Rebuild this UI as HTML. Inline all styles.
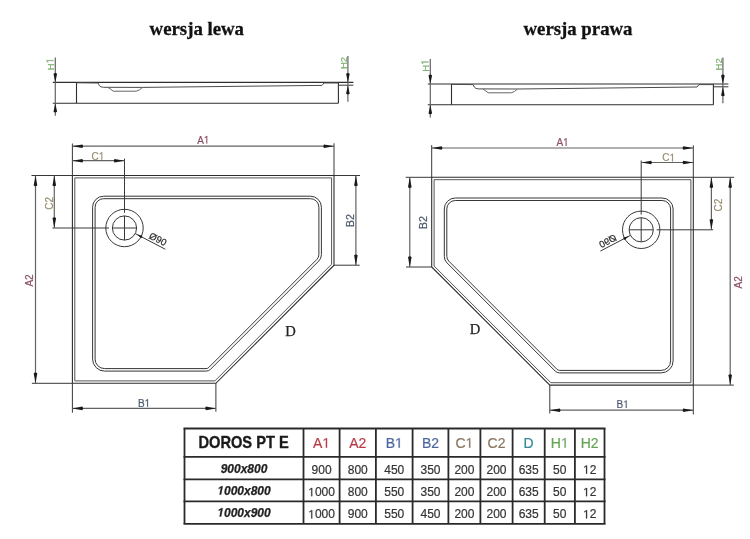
<!DOCTYPE html>
<html><head><meta charset="utf-8"><style>
*{margin:0;padding:0}
html,body{width:750px;height:539px;background:#fff;overflow:hidden}
svg{position:absolute;left:0;top:0;will-change:transform}
.tr{fill:none;stroke:#2e2e2e;stroke-width:1.1}
.tr2{fill:none;stroke:#555;stroke-width:1}
.bs{fill:none;stroke:#363636;stroke-width:1}
.pf{fill:none;stroke:#4a4a4a;stroke-width:1}
.pf2{fill:none;stroke:#666;stroke-width:1}
.el{stroke:#383838;stroke-width:1}
.dl{stroke:#626262;stroke-width:1.2}
.ah{fill:#1a1a1a}
.o1{fill-opacity:0;stroke-opacity:0}
.tb2{stroke:#2a2a2a;stroke-width:1.8}
text{font-family:"Liberation Sans",sans-serif}
.ta{font-size:10px;fill:#8a5062;stroke:#8a5062;stroke-width:0.2}
.tb{font-size:10px;fill:#4c5a6e;stroke:#4c5a6e;stroke-width:0.2}
.tb2x{font-size:10.8px}
.tc{font-size:10px;fill:#968c6e;stroke:#968c6e;stroke-width:0.2}
.th{font-size:9.5px;fill:#7aae6e;stroke:#7aae6e;stroke-width:0.2}
.td{font-family:"Liberation Serif",serif;font-size:14.6px;fill:#222;stroke:#222;stroke-width:0.25}
.tdm{font-size:9.6px;fill:#2a2a2a;stroke:#2a2a2a;stroke-width:0.2}
.ti{font-family:"Liberation Serif",serif;font-weight:bold;font-size:18.8px;fill:#111;stroke:#111;stroke-width:0.3}
.hd{font-weight:bold;font-size:15.6px;fill:#1a1a1a;stroke:#1a1a1a;stroke-width:0.35}
.hA{font-size:14px;fill:#b83c46;stroke:#b83c46;stroke-width:0.2}
.hB{font-size:14px;fill:#4d66a0;stroke:#4d66a0;stroke-width:0.2}
.hC{font-size:14px;fill:#8a7562;stroke:#8a7562;stroke-width:0.2}
.hD{font-size:14px;fill:#338796;stroke:#338796;stroke-width:0.2}
.hH{font-size:14px;fill:#66a354;stroke:#66a354;stroke-width:0.2}
.rn{font-weight:bold;font-style:italic;font-size:12px;fill:#222;stroke:#222;stroke-width:0.25}
.dv{font-size:12px;fill:#333;stroke:#333;stroke-width:0.2}
</style></head>
<body>
<svg width="750" height="539" viewBox="0 0 750 539">
<text x="196.8" y="35.3" class="ti" text-anchor="middle">wersja lewa</text>
<text x="578.0" y="35.1" class="ti" text-anchor="middle">wersja prawa</text>
<g id="L">
<line x1="52.80" y1="82.40" x2="353.40" y2="82.40" class="tr"/>
<line x1="52.80" y1="103.20" x2="338.40" y2="103.20" class="tr"/>
<line x1="76.50" y1="82.40" x2="76.50" y2="103.20" class="tr"/>
<line x1="338.40" y1="82.40" x2="338.40" y2="103.20" class="tr"/>
<line x1="338.40" y1="85.20" x2="353.40" y2="85.20" class="el"/>
<path d="M76.5,82.8 L98,83 L99.4,85.6 Q100.6,87.3 103.6,87.3 L142.4,87.4 L322,85.4 L324,83.0 L338.4,83.0" class="pf"/>
<path d="M107.8,87.3 Q110,88.6 113.2,91.2 L136.2,91.2 Q139.6,90.6 142.4,87.4" class="pf2"/>
<line x1="55.30" y1="57.40" x2="55.30" y2="115.80" class="dl"/>
<path d="M55.30,82.40 L53.50,73.80 Q55.30,72.20 57.10,73.80 Z" class="ah"/>
<path d="M55.30,103.20 L57.10,111.80 Q55.30,113.40 53.50,111.80 Z" class="ah"/>
<line x1="347.90" y1="56.00" x2="347.90" y2="101.70" class="dl"/>
<path d="M347.90,82.40 L346.10,73.80 Q347.90,72.20 349.70,73.80 Z" class="ah"/>
<path d="M347.90,85.20 L349.70,93.80 Q347.90,95.40 346.10,93.80 Z" class="ah"/>
<path d="M72.40,175.50 L334.00,175.50 L334.00,265.20 L215.90,383.30 L72.40,383.30 Z" class="tr"/>
<path d="M74.80,177.90 L331.60,177.90 L331.60,264.21 L214.91,380.90 L74.80,380.90 Z" class="tr2"/>
<path d="M92.60,207.20 A11.00,11.00 0 0 1 103.60,196.20 L310.40,196.20 A11.00,11.00 0 0 1 321.40,207.20 L321.40,254.67 A9.00,9.00 0 0 1 318.76,261.04 L210.46,369.34 A6.00,6.00 0 0 1 206.21,371.10 L104.60,371.10 A12.00,12.00 0 0 1 92.60,359.10 Z" class="bs"/>
<path d="M95.10,207.20 A8.50,8.50 0 0 1 103.60,198.70 L310.40,198.70 A8.50,8.50 0 0 1 318.90,207.20 L318.90,254.46 A7.00,7.00 0 0 1 316.85,259.41 L208.84,367.43 A4.00,4.00 0 0 1 206.01,368.60 L104.60,368.60 A9.50,9.50 0 0 1 95.10,359.10 Z" class="bs"/>
<circle cx="124.5" cy="228.0" r="18.7" class="bs"/>
<circle cx="124.5" cy="228.0" r="12.1" class="bs"/>
<line x1="124.50" y1="158.70" x2="124.50" y2="212.80" class="el"/>
<line x1="124.50" y1="215.90" x2="124.50" y2="240.10" class="el"/>
<line x1="52.50" y1="228.00" x2="109.00" y2="228.00" class="el"/>
<line x1="112.40" y1="228.00" x2="136.60" y2="228.00" class="el"/>
<line x1="135.23" y1="233.59" x2="165.30" y2="249.24" class="el"/>
<path d="M137.10,234.56 L142.40,235.63 Q142.24,237.23 141.02,238.29 Z" class="ah"/>
<line x1="72.40" y1="143.50" x2="72.40" y2="175.50" class="el"/>
<line x1="72.40" y1="383.30" x2="72.40" y2="412.70" class="el"/>
<line x1="334.00" y1="143.30" x2="334.00" y2="175.50" class="el"/>
<line x1="31.50" y1="175.50" x2="72.40" y2="175.50" class="el"/>
<line x1="31.90" y1="383.30" x2="72.40" y2="383.30" class="el"/>
<line x1="334.00" y1="175.50" x2="360.00" y2="175.50" class="el"/>
<line x1="334.00" y1="265.20" x2="359.70" y2="265.20" class="el"/>
<line x1="215.90" y1="383.30" x2="215.90" y2="411.70" class="el"/>
<line x1="72.40" y1="146.20" x2="334.00" y2="146.20" class="dl"/><path d="M72.40,146.20 L82.40,144.40 Q84.00,146.20 82.40,148.00 Z" class="ah"/><path d="M334.00,146.20 L324.00,148.00 Q322.40,146.20 324.00,144.40 Z" class="ah"/>
<line x1="72.40" y1="160.70" x2="124.50" y2="160.70" class="dl"/><path d="M72.40,160.70 L82.40,158.90 Q84.00,160.70 82.40,162.50 Z" class="ah"/><path d="M124.50,160.70 L114.50,162.50 Q112.90,160.70 114.50,158.90 Z" class="ah"/>
<line x1="54.30" y1="175.50" x2="54.30" y2="228.00" class="dl"/><path d="M54.30,175.50 L56.10,185.50 Q54.30,187.10 52.50,185.50 Z" class="ah"/><path d="M54.30,228.00 L52.50,218.00 Q54.30,216.40 56.10,218.00 Z" class="ah"/>
<line x1="35.50" y1="175.50" x2="35.50" y2="383.30" class="dl"/><path d="M35.50,175.50 L37.30,185.50 Q35.50,187.10 33.70,185.50 Z" class="ah"/><path d="M35.50,383.30 L33.70,373.30 Q35.50,371.70 37.30,373.30 Z" class="ah"/>
<line x1="72.40" y1="408.40" x2="215.90" y2="408.40" class="dl"/><path d="M72.40,408.40 L82.40,406.60 Q84.00,408.40 82.40,410.20 Z" class="ah"/><path d="M215.90,408.40 L205.90,410.20 Q204.30,408.40 205.90,406.60 Z" class="ah"/>
<line x1="355.90" y1="175.50" x2="355.90" y2="265.20" class="dl"/><path d="M355.90,175.50 L357.70,185.50 Q355.90,187.10 354.10,185.50 Z" class="ah"/><path d="M355.90,265.20 L354.10,255.20 Q355.90,253.60 357.70,255.20 Z" class="ah"/>
<text x="0" y="0" transform="translate(158.0,239.0) rotate(27.5)" class="tdm" text-anchor="middle" dominant-baseline="central">&#216;90</text>
</g>
<g transform="translate(375,1.6)">
<line x1="52.80" y1="82.40" x2="353.40" y2="82.40" class="tr"/>
<line x1="52.80" y1="103.20" x2="338.40" y2="103.20" class="tr"/>
<line x1="76.50" y1="82.40" x2="76.50" y2="103.20" class="tr"/>
<line x1="338.40" y1="82.40" x2="338.40" y2="103.20" class="tr"/>
<line x1="338.40" y1="85.20" x2="353.40" y2="85.20" class="el"/>
<path d="M76.5,82.8 L98,83 L99.4,85.6 Q100.6,87.3 103.6,87.3 L142.4,87.4 L322,85.4 L324,83.0 L338.4,83.0" class="pf"/>
<path d="M107.8,87.3 Q110,88.6 113.2,91.2 L136.2,91.2 Q139.6,90.6 142.4,87.4" class="pf2"/>
<line x1="55.30" y1="57.40" x2="55.30" y2="115.80" class="dl"/>
<path d="M55.30,82.40 L53.50,73.80 Q55.30,72.20 57.10,73.80 Z" class="ah"/>
<path d="M55.30,103.20 L57.10,111.80 Q55.30,113.40 53.50,111.80 Z" class="ah"/>
<line x1="347.90" y1="56.00" x2="347.90" y2="101.70" class="dl"/>
<path d="M347.90,82.40 L346.10,73.80 Q347.90,72.20 349.70,73.80 Z" class="ah"/>
<path d="M347.90,85.20 L349.70,93.80 Q347.90,95.40 346.10,93.80 Z" class="ah"/>
</g>
<g transform="translate(765.7,1.8) scale(-1,1)">
<path d="M72.40,175.50 L334.00,175.50 L334.00,265.20 L215.90,383.30 L72.40,383.30 Z" class="tr"/>
<path d="M74.80,177.90 L331.60,177.90 L331.60,264.21 L214.91,380.90 L74.80,380.90 Z" class="tr2"/>
<path d="M92.60,207.20 A11.00,11.00 0 0 1 103.60,196.20 L310.40,196.20 A11.00,11.00 0 0 1 321.40,207.20 L321.40,254.67 A9.00,9.00 0 0 1 318.76,261.04 L210.46,369.34 A6.00,6.00 0 0 1 206.21,371.10 L104.60,371.10 A12.00,12.00 0 0 1 92.60,359.10 Z" class="bs"/>
<path d="M95.10,207.20 A8.50,8.50 0 0 1 103.60,198.70 L310.40,198.70 A8.50,8.50 0 0 1 318.90,207.20 L318.90,254.46 A7.00,7.00 0 0 1 316.85,259.41 L208.84,367.43 A4.00,4.00 0 0 1 206.01,368.60 L104.60,368.60 A9.50,9.50 0 0 1 95.10,359.10 Z" class="bs"/>
<circle cx="124.5" cy="228.0" r="18.7" class="bs"/>
<circle cx="124.5" cy="228.0" r="12.1" class="bs"/>
<line x1="124.50" y1="158.70" x2="124.50" y2="212.80" class="el"/>
<line x1="124.50" y1="215.90" x2="124.50" y2="240.10" class="el"/>
<line x1="52.50" y1="228.00" x2="109.00" y2="228.00" class="el"/>
<line x1="112.40" y1="228.00" x2="136.60" y2="228.00" class="el"/>
<line x1="135.23" y1="233.59" x2="165.30" y2="249.24" class="el"/>
<path d="M137.10,234.56 L142.40,235.63 Q142.24,237.23 141.02,238.29 Z" class="ah"/>
<line x1="72.40" y1="143.50" x2="72.40" y2="175.50" class="el"/>
<line x1="72.40" y1="383.30" x2="72.40" y2="412.70" class="el"/>
<line x1="334.00" y1="143.30" x2="334.00" y2="175.50" class="el"/>
<line x1="31.50" y1="175.50" x2="72.40" y2="175.50" class="el"/>
<line x1="31.90" y1="383.30" x2="72.40" y2="383.30" class="el"/>
<line x1="334.00" y1="175.50" x2="360.00" y2="175.50" class="el"/>
<line x1="334.00" y1="265.20" x2="359.70" y2="265.20" class="el"/>
<line x1="215.90" y1="383.30" x2="215.90" y2="411.70" class="el"/>
<line x1="72.40" y1="146.20" x2="334.00" y2="146.20" class="dl"/><path d="M72.40,146.20 L82.40,144.40 Q84.00,146.20 82.40,148.00 Z" class="ah"/><path d="M334.00,146.20 L324.00,148.00 Q322.40,146.20 324.00,144.40 Z" class="ah"/>
<line x1="72.40" y1="160.70" x2="124.50" y2="160.70" class="dl"/><path d="M72.40,160.70 L82.40,158.90 Q84.00,160.70 82.40,162.50 Z" class="ah"/><path d="M124.50,160.70 L114.50,162.50 Q112.90,160.70 114.50,158.90 Z" class="ah"/>
<line x1="54.30" y1="175.50" x2="54.30" y2="228.00" class="dl"/><path d="M54.30,175.50 L56.10,185.50 Q54.30,187.10 52.50,185.50 Z" class="ah"/><path d="M54.30,228.00 L52.50,218.00 Q54.30,216.40 56.10,218.00 Z" class="ah"/>
<line x1="35.50" y1="175.50" x2="35.50" y2="383.30" class="dl"/><path d="M35.50,175.50 L37.30,185.50 Q35.50,187.10 33.70,185.50 Z" class="ah"/><path d="M35.50,383.30 L33.70,373.30 Q35.50,371.70 37.30,373.30 Z" class="ah"/>
<line x1="72.40" y1="408.40" x2="215.90" y2="408.40" class="dl"/><path d="M72.40,408.40 L82.40,406.60 Q84.00,408.40 82.40,410.20 Z" class="ah"/><path d="M215.90,408.40 L205.90,410.20 Q204.30,408.40 205.90,406.60 Z" class="ah"/>
<line x1="355.90" y1="175.50" x2="355.90" y2="265.20" class="dl"/><path d="M355.90,175.50 L357.70,185.50 Q355.90,187.10 354.10,185.50 Z" class="ah"/><path d="M355.90,265.20 L354.10,255.20 Q355.90,253.60 357.70,255.20 Z" class="ah"/>
<text x="0" y="0" transform="translate(158.0,239.0) rotate(27.5)" class="tdm" text-anchor="middle" dominant-baseline="central">&#216;90</text>
</g>
<g><text id="t1" x="203.30" y="143.60" class="ta" text-anchor="middle">A<tspan class="o1">1</tspan></text><path d="M515,0 L515,1237 L197,1010 L197,1180 L530,1409 L696,1409 L696,0 Z" transform="translate(203.85,143.60) scale(0.00488,-0.00537)" fill="rgb(138, 80, 98)" stroke="rgb(138, 80, 98)" stroke-width="0.2px" vector-effect="non-scaling-stroke"/></g>
<g><text id="t2" x="98.00" y="159.80" class="tc" text-anchor="middle">C<tspan class="o1">1</tspan></text><path d="M515,0 L515,1237 L197,1010 L197,1180 L530,1409 L696,1409 L696,0 Z" transform="translate(98.84,159.80) scale(0.00488,-0.00537)" fill="rgb(150, 140, 110)" stroke="rgb(150, 140, 110)" stroke-width="0.2px" vector-effect="non-scaling-stroke"/></g>
<g><text id="t3" x="144.10" y="406.80" class="tb" text-anchor="middle">B<tspan class="o1">1</tspan></text><path d="M515,0 L515,1237 L197,1010 L197,1180 L530,1409 L696,1409 L696,0 Z" transform="translate(144.65,406.80) scale(0.00488,-0.00537)" fill="rgb(76, 90, 110)" stroke="rgb(76, 90, 110)" stroke-width="0.2px" vector-effect="non-scaling-stroke"/></g>
<g transform="translate(33.34,280.45) rotate(-90)"><text id="t4" x="0.00" y="0.00" class="ta" text-anchor="middle">A2</text></g>
<g transform="translate(53.39,203.25) rotate(-90)"><text id="t5" x="0.00" y="0.00" class="tc" text-anchor="middle">C2</text></g>
<g transform="translate(353.57,220.60) rotate(-90)"><text id="t6" x="0.00" y="0.00" class="tb tb2x" text-anchor="middle">B2</text></g>
<text x="290.4" y="335.6" class="td" text-anchor="middle">D</text>
<g transform="translate(53.57,64.25) rotate(-90)"><text id="t7" x="0.00" y="0.00" class="th" text-anchor="middle">H<tspan class="o1">1</tspan></text><path d="M515,0 L515,1237 L197,1010 L197,1180 L530,1409 L696,1409 L696,0 Z" transform="translate(0.79,0.00) scale(0.00464,-0.00510)" fill="rgb(122, 174, 110)" stroke="rgb(122, 174, 110)" stroke-width="0.2px" vector-effect="non-scaling-stroke"/></g>
<g transform="translate(346.77,63.00) rotate(-90)"><text id="t8" x="0.00" y="0.00" class="th" text-anchor="middle">H2</text></g>
<g><text id="t9" x="562.60" y="145.90" class="ta" text-anchor="middle">A<tspan class="o1">1</tspan></text><path d="M515,0 L515,1237 L197,1010 L197,1180 L530,1409 L696,1409 L696,0 Z" transform="translate(563.15,145.90) scale(0.00488,-0.00537)" fill="rgb(138, 80, 98)" stroke="rgb(138, 80, 98)" stroke-width="0.2px" vector-effect="non-scaling-stroke"/></g>
<g><text id="t10" x="668.70" y="161.40" class="tc" text-anchor="middle">C<tspan class="o1">1</tspan></text><path d="M515,0 L515,1237 L197,1010 L197,1180 L530,1409 L696,1409 L696,0 Z" transform="translate(669.54,161.40) scale(0.00488,-0.00537)" fill="rgb(150, 140, 110)" stroke="rgb(150, 140, 110)" stroke-width="0.2px" vector-effect="non-scaling-stroke"/></g>
<g><text id="t11" x="622.70" y="408.00" class="tb" text-anchor="middle">B<tspan class="o1">1</tspan></text><path d="M515,0 L515,1237 L197,1010 L197,1180 L530,1409 L696,1409 L696,0 Z" transform="translate(623.25,408.00) scale(0.00488,-0.00537)" fill="rgb(76, 90, 110)" stroke="rgb(76, 90, 110)" stroke-width="0.2px" vector-effect="non-scaling-stroke"/></g>
<g transform="translate(742.34,282.30) rotate(-90)"><text id="t12" x="0.00" y="0.00" class="ta" text-anchor="middle">A2</text></g>
<g transform="translate(721.94,205.00) rotate(-90)"><text id="t13" x="0.00" y="0.00" class="tc" text-anchor="middle">C2</text></g>
<g transform="translate(427.47,222.55) rotate(-90)"><text id="t14" x="0.00" y="0.00" class="tb tb2x" text-anchor="middle">B2</text></g>
<text x="474.95" y="333.7" class="td" text-anchor="middle">D</text>
<g transform="translate(428.57,65.60) rotate(-90)"><text id="t15" x="0.00" y="0.00" class="th" text-anchor="middle">H<tspan class="o1">1</tspan></text><path d="M515,0 L515,1237 L197,1010 L197,1180 L530,1409 L696,1409 L696,0 Z" transform="translate(0.79,0.00) scale(0.00464,-0.00510)" fill="rgb(122, 174, 110)" stroke="rgb(122, 174, 110)" stroke-width="0.2px" vector-effect="non-scaling-stroke"/></g>
<g transform="translate(721.77,64.30) rotate(-90)"><text id="t16" x="0.00" y="0.00" class="th" text-anchor="middle">H2</text></g>
<line x1="184.50" y1="428.50" x2="184.50" y2="523.90" class="tb2"/>
<line x1="303.50" y1="428.50" x2="303.50" y2="523.90" class="tb2"/>
<line x1="339.60" y1="428.50" x2="339.60" y2="523.90" class="tb2"/>
<line x1="375.90" y1="428.50" x2="375.90" y2="523.90" class="tb2"/>
<line x1="412.60" y1="428.50" x2="412.60" y2="523.90" class="tb2"/>
<line x1="448.40" y1="428.50" x2="448.40" y2="523.90" class="tb2"/>
<line x1="480.40" y1="428.50" x2="480.40" y2="523.90" class="tb2"/>
<line x1="512.60" y1="428.50" x2="512.60" y2="523.90" class="tb2"/>
<line x1="544.70" y1="428.50" x2="544.70" y2="523.90" class="tb2"/>
<line x1="574.90" y1="428.50" x2="574.90" y2="523.90" class="tb2"/>
<line x1="604.50" y1="428.50" x2="604.50" y2="523.90" class="tb2"/>
<line x1="183.50" y1="428.50" x2="605.50" y2="428.50" class="tb2"/>
<line x1="183.50" y1="456.80" x2="605.50" y2="456.80" class="tb2"/>
<line x1="183.50" y1="479.30" x2="605.50" y2="479.30" class="tb2"/>
<line x1="183.50" y1="501.30" x2="605.50" y2="501.30" class="tb2"/>
<line x1="183.50" y1="523.90" x2="605.50" y2="523.90" class="tb2"/>
<g transform="translate(243.60,447.8) scale(0.94,1)"><text id="t17" x="0.00" y="0.00" class="hd" text-anchor="middle">DOROS PT E</text></g>
<g><text id="t18" x="321.55" y="447.80" class="hA" text-anchor="middle">A<tspan class="o1">1</tspan></text><path d="M515,0 L515,1237 L197,1010 L197,1180 L530,1409 L696,1409 L696,0 Z" transform="translate(322.32,447.80) scale(0.00684,-0.00684)" fill="rgb(184, 60, 70)" stroke="rgb(184, 60, 70)" stroke-width="0.2px" vector-effect="non-scaling-stroke"/></g>
<g><text id="t19" x="357.75" y="447.80" class="hA" text-anchor="middle">A2</text></g>
<g><text id="t20" x="394.25" y="447.80" class="hB" text-anchor="middle">B<tspan class="o1">1</tspan></text><path d="M515,0 L515,1237 L197,1010 L197,1180 L530,1409 L696,1409 L696,0 Z" transform="translate(395.02,447.80) scale(0.00684,-0.00684)" fill="rgb(77, 102, 160)" stroke="rgb(77, 102, 160)" stroke-width="0.2px" vector-effect="non-scaling-stroke"/></g>
<g><text id="t21" x="430.50" y="447.80" class="hB" text-anchor="middle">B2</text></g>
<g><text id="t22" x="464.40" y="447.80" class="hC" text-anchor="middle">C<tspan class="o1">1</tspan></text><path d="M515,0 L515,1237 L197,1010 L197,1180 L530,1409 L696,1409 L696,0 Z" transform="translate(465.56,447.80) scale(0.00684,-0.00684)" fill="rgb(138, 117, 98)" stroke="rgb(138, 117, 98)" stroke-width="0.2px" vector-effect="non-scaling-stroke"/></g>
<g><text id="t23" x="496.50" y="447.80" class="hC" text-anchor="middle">C2</text></g>
<g><text id="t24" x="528.65" y="447.80" class="hD" text-anchor="middle">D</text></g>
<g><text id="t25" x="559.80" y="447.80" class="hH" text-anchor="middle">H<tspan class="o1">1</tspan></text><path d="M515,0 L515,1237 L197,1010 L197,1180 L530,1409 L696,1409 L696,0 Z" transform="translate(560.96,447.80) scale(0.00684,-0.00684)" fill="rgb(102, 163, 84)" stroke="rgb(102, 163, 84)" stroke-width="0.2px" vector-effect="non-scaling-stroke"/></g>
<g><text id="t26" x="589.70" y="447.80" class="hH" text-anchor="middle">H2</text></g>
<g><text id="t27" x="244.00" y="472.60" class="rn" text-anchor="middle">900x800</text></g>
<g><text id="t28" x="321.55" y="473.70" class="dv" text-anchor="middle">900</text></g>
<g><text id="t29" x="357.75" y="473.70" class="dv" text-anchor="middle">800</text></g>
<g><text id="t30" x="394.25" y="473.70" class="dv" text-anchor="middle">450</text></g>
<g><text id="t31" x="430.50" y="473.70" class="dv" text-anchor="middle">350</text></g>
<g><text id="t32" x="464.40" y="473.70" class="dv" text-anchor="middle">200</text></g>
<g><text id="t33" x="496.50" y="473.70" class="dv" text-anchor="middle">200</text></g>
<g><text id="t34" x="528.65" y="473.70" class="dv" text-anchor="middle">635</text></g>
<g><text id="t35" x="559.80" y="473.70" class="dv" text-anchor="middle">50</text></g>
<g><text id="t36" x="589.70" y="473.70" class="dv" text-anchor="middle"><tspan class="o1">1</tspan>2</text><path d="M515,0 L515,1237 L197,1010 L197,1180 L530,1409 L696,1409 L696,0 Z" transform="translate(583.01,473.70) scale(0.00586,-0.00586)" fill="rgb(51, 51, 51)" stroke="rgb(51, 51, 51)" stroke-width="0.2px" vector-effect="non-scaling-stroke"/></g>
<g><text id="t37" x="244.00" y="494.60" class="rn" text-anchor="middle"><tspan class="o1">1</tspan>000x800</text><path d="M380,0 L604,1152 L223,938 L270,1180 L666,1409 L936,1409 L661,0 Z" transform="translate(217.30,494.60) scale(0.00586,-0.00586)" fill="rgb(34, 34, 34)" stroke="rgb(34, 34, 34)" stroke-width="0.25px" vector-effect="non-scaling-stroke"/></g>
<g><text id="t38" x="321.55" y="496.20" class="dv" text-anchor="middle"><tspan class="o1">1</tspan>000</text><path d="M515,0 L515,1237 L197,1010 L197,1180 L530,1409 L696,1409 L696,0 Z" transform="translate(308.19,496.20) scale(0.00586,-0.00586)" fill="rgb(51, 51, 51)" stroke="rgb(51, 51, 51)" stroke-width="0.2px" vector-effect="non-scaling-stroke"/></g>
<g><text id="t39" x="357.75" y="496.20" class="dv" text-anchor="middle">800</text></g>
<g><text id="t40" x="394.25" y="496.20" class="dv" text-anchor="middle">550</text></g>
<g><text id="t41" x="430.50" y="496.20" class="dv" text-anchor="middle">350</text></g>
<g><text id="t42" x="464.40" y="496.20" class="dv" text-anchor="middle">200</text></g>
<g><text id="t43" x="496.50" y="496.20" class="dv" text-anchor="middle">200</text></g>
<g><text id="t44" x="528.65" y="496.20" class="dv" text-anchor="middle">635</text></g>
<g><text id="t45" x="559.80" y="496.20" class="dv" text-anchor="middle">50</text></g>
<g><text id="t46" x="589.70" y="496.20" class="dv" text-anchor="middle"><tspan class="o1">1</tspan>2</text><path d="M515,0 L515,1237 L197,1010 L197,1180 L530,1409 L696,1409 L696,0 Z" transform="translate(583.01,496.20) scale(0.00586,-0.00586)" fill="rgb(51, 51, 51)" stroke="rgb(51, 51, 51)" stroke-width="0.2px" vector-effect="non-scaling-stroke"/></g>
<g><text id="t47" x="244.00" y="516.50" class="rn" text-anchor="middle"><tspan class="o1">1</tspan>000x900</text><path d="M380,0 L604,1152 L223,938 L270,1180 L666,1409 L936,1409 L661,0 Z" transform="translate(217.30,516.50) scale(0.00586,-0.00586)" fill="rgb(34, 34, 34)" stroke="rgb(34, 34, 34)" stroke-width="0.25px" vector-effect="non-scaling-stroke"/></g>
<g><text id="t48" x="321.55" y="518.40" class="dv" text-anchor="middle"><tspan class="o1">1</tspan>000</text><path d="M515,0 L515,1237 L197,1010 L197,1180 L530,1409 L696,1409 L696,0 Z" transform="translate(308.19,518.40) scale(0.00586,-0.00586)" fill="rgb(51, 51, 51)" stroke="rgb(51, 51, 51)" stroke-width="0.2px" vector-effect="non-scaling-stroke"/></g>
<g><text id="t49" x="357.75" y="518.40" class="dv" text-anchor="middle">900</text></g>
<g><text id="t50" x="394.25" y="518.40" class="dv" text-anchor="middle">550</text></g>
<g><text id="t51" x="430.50" y="518.40" class="dv" text-anchor="middle">450</text></g>
<g><text id="t52" x="464.40" y="518.40" class="dv" text-anchor="middle">200</text></g>
<g><text id="t53" x="496.50" y="518.40" class="dv" text-anchor="middle">200</text></g>
<g><text id="t54" x="528.65" y="518.40" class="dv" text-anchor="middle">635</text></g>
<g><text id="t55" x="559.80" y="518.40" class="dv" text-anchor="middle">50</text></g>
<g><text id="t56" x="589.70" y="518.40" class="dv" text-anchor="middle"><tspan class="o1">1</tspan>2</text><path d="M515,0 L515,1237 L197,1010 L197,1180 L530,1409 L696,1409 L696,0 Z" transform="translate(583.01,518.40) scale(0.00586,-0.00586)" fill="rgb(51, 51, 51)" stroke="rgb(51, 51, 51)" stroke-width="0.2px" vector-effect="non-scaling-stroke"/></g>
</svg>
</body></html>
